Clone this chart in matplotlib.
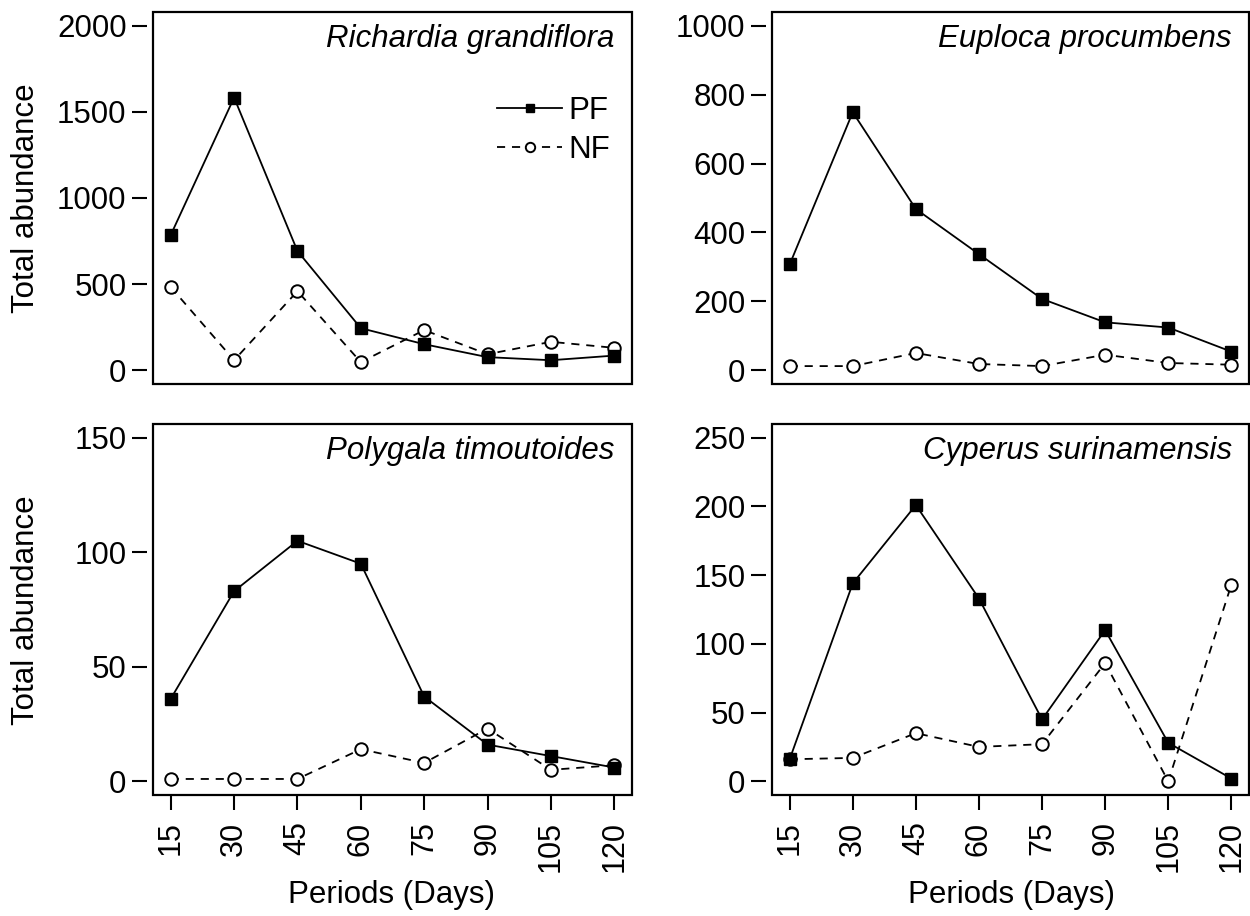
import matplotlib
matplotlib.use('Agg')
import matplotlib.pyplot as plt
from matplotlib.patches import Rectangle

plt.rcParams['font.family'] = ['Liberation Sans', 'DejaVu Sans']

# DATA
days = [15, 30, 45, 60, 75, 90, 105, 120]
species = ['Richardia grandiflora', 'Euploca procumbens',
           'Polygala timoutoides', 'Cyperus surinamensis']

pf_richardia = [785, 1583, 692, 244, 151, 76, 58, 85]
nf_richardia = [483, 58, 459, 47, 233, 93, 165, 130]

pf_euploca = [307, 749, 468, 337, 207, 139, 124, 54]
nf_euploca = [12, 12, 50, 18, 12, 45, 21, 16]

pf_polygala = [36, 83, 105, 95, 37, 16, 11, 6]
nf_polygala = [1, 1, 1, 14, 8, 23, 5, 7]

pf_cyperus = [16, 144, 201, 133, 45, 110, 28, 2]
nf_cyperus = [16, 17, 35, 25, 27, 86, 0, 143]

y_max = [2000, 1000, 150, 250]
y_ticks = [[0, 500, 1000, 1500, 2000],
           [0, 200, 400, 600, 800, 1000],
           [0, 50, 100, 150],
           [0, 50, 100, 150, 200, 250]]

FS = 22.5
W, H = 1250, 916


def px_axes(fig, left, top, right, bottom):  # pixel box -> figure axes
    return fig.add_axes([left / W, 1 - bottom / H, (right - left) / W, (bottom - top) / H])


def draw_panel(ax, name, pf, nf, ymax, ticks, show_x, legend=False):
    ax.plot(days, nf, color='black', lw=1.3, dashes=(4.5, 3.8), marker='o',
            ms=9, mfc='white', mec='black', mew=1.4, label='NF')
    ax.plot(days, pf, color='black', lw=1.3, marker='s', ms=8.5,
            mfc='black', mec='black', label='PF')

    # R style ranges (4% padding)
    ax.set_xlim(15 - 0.04 * 105, 120 + 0.04 * 105)
    ax.set_ylim(-0.04 * ymax, ymax * 1.04)

    for s in ax.spines.values():
        s.set_visible(False)
    ax.spines['left'].set_position(('outward', 4))
    ax.add_patch(Rectangle((0, 0), 1, 1, transform=ax.transAxes, fill=False,
                           lw=1.6, ec='black', clip_on=False, zorder=5))

    ax.set_yticks(ticks)
    ax.tick_params(axis='y', direction='out', length=11, width=1.5, pad=4, labelsize=FS)
    if show_x:
        ax.set_xticks(days)
        ax.set_xticklabels([str(d) for d in days], rotation=90)
        ax.tick_params(axis='x', direction='out', length=11, width=1.5, pad=8, labelsize=22)
    else:
        ax.set_xticks([])

    ax.text(0.964, 0.905, name, transform=ax.transAxes, ha='right', va='baseline',
            fontsize=FS, style='italic')

    if legend:
        h, l = ax.get_legend_handles_labels()
        ax.legend(h[::-1], l[::-1], loc='upper right', bbox_to_anchor=(0.955, 0.775),
                  frameon=False, fontsize=FS, handlelength=2.1, handletextpad=0.2,
                  labelspacing=0.3, borderpad=0, borderaxespad=0, numpoints=1,
                  markerscale=0.75)


fig = plt.figure(figsize=(W / 100, H / 100), dpi=100)

ax1 = px_axes(fig, 153, 12, 632, 384)
ax2 = px_axes(fig, 772, 12, 1249, 384)
ax3 = px_axes(fig, 153, 424, 632, 795)
ax4 = px_axes(fig, 772, 424, 1249, 795)

draw_panel(ax1, species[0], pf_richardia, nf_richardia, y_max[0], y_ticks[0], False, legend=True)
draw_panel(ax2, species[1], pf_euploca, nf_euploca, y_max[1], y_ticks[1], False)
draw_panel(ax3, species[2], pf_polygala, nf_polygala, y_max[2], y_ticks[2], True)
draw_panel(ax4, species[3], pf_cyperus, nf_cyperus, y_max[3], y_ticks[3], True)

# shared labels
fig.text(26 / W, 1 - 198 / H, 'Total abundance', rotation=90, ha='center', va='center', fontsize=FS)
fig.text(26 / W, 1 - 610 / H, 'Total abundance', rotation=90, ha='center', va='center', fontsize=FS)
fig.text(392 / W, 1 - 895 / H, 'Periods (Days)', ha='center', va='center', fontsize=FS)
fig.text(1011 / W, 1 - 895 / H, 'Periods (Days)', ha='center', va='center', fontsize=FS)

fig.savefig('out.png', dpi=100)
